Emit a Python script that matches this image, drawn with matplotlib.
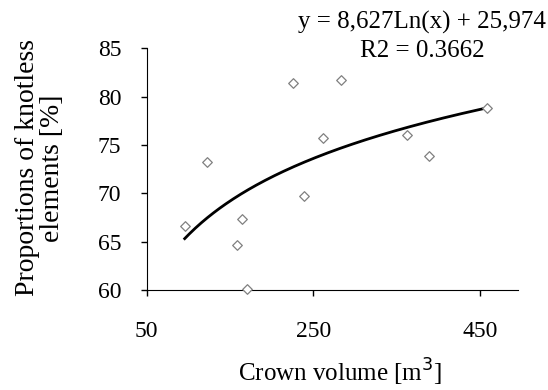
import numpy as np
import matplotlib
matplotlib.use("Agg")
import matplotlib.pyplot as plt

plt.rcParams['font.family'] = ['Liberation Serif', 'DejaVu Serif']

# Crown volume [m3] and proportion of knotless elements [%]
crown_volume = [95.6, 122.8, 158.8, 164.4, 170.4, 226.0, 238.8, 261.2, 283.2, 362.8, 389.2, 458.8]
knotless_pct = [66.6, 73.2, 64.7, 67.3, 60.1, 81.4, 69.7, 75.7, 81.7, 76.0, 73.9, 78.8]

# Logarithmic trend coefficients
coef_a = 8.627
coef_b = 25.974
r_squared = 0.3662

x_ticks = [50, 250, 450]
y_ticks = [60, 65, 70, 75, 80, 85]

W, H = 548, 390
fig = plt.figure(figsize=(W / 100, H / 100), dpi=100)
ax = fig.add_axes([146.7 / W, 1 - 290 / H, (518 - 146.7) / W, (290 - 48.3) / H])

ax.scatter(crown_volume, knotless_pct, marker='D', s=24, facecolors='white',
           edgecolors='#808080', linewidths=0.9, zorder=3, clip_on=False)

xs = np.linspace(min(crown_volume), max(crown_volume), 200)
ax.plot(xs, coef_a * np.log(xs) + coef_b, color='black', lw=2.0, zorder=2)

ax.set_xlim(50, 495.6)
ax.set_ylim(60, 85)
ax.set_xticks(x_ticks)
ax.set_yticks(y_ticks)
ax.tick_params(direction='out', length=4.3, width=1, labelsize=17)
ax.tick_params(axis='x', pad=18)
ax.tick_params(axis='y', pad=14)
ax.spines['top'].set_visible(False)
ax.spines['right'].set_visible(False)

ax.set_xlabel('Crown volume [m$^3$]', fontsize=18, va='baseline')
ax.xaxis.set_label_coords(340 / W, 1 - 382 / H, transform=fig.transFigure)
ax.set_ylabel('Proportions of knotless\nelements [%]', fontsize=20, va='center',
              linespacing=0.95)
ax.yaxis.set_label_coords(40 / W, 1 - 168 / H, transform=fig.transFigure)

fig.text(422 / W, 1 - 29 / H, f'y = {coef_a:.3f}Ln(x) + {coef_b:.3f}'.replace('.', ','),
         fontsize=18, ha='center', va='baseline')
fig.text(422 / W, 1 - 57 / H, f'R2 = {r_squared:.4f}', fontsize=18,
         ha='center', va='baseline')

fig.savefig('out.png', dpi=100)
